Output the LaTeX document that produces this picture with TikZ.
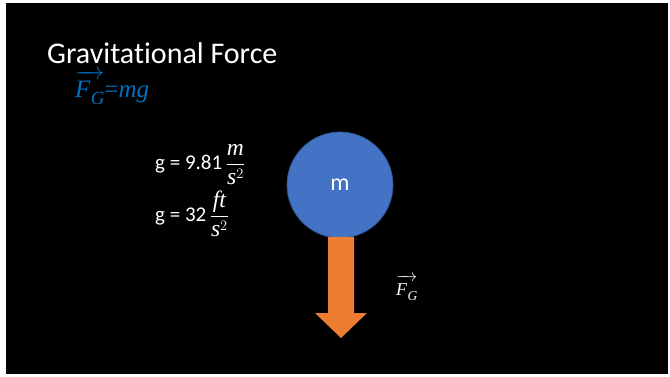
\documentclass[tikz,border=0pt]{standalone}
\usepackage{fontspec}
\setmainfont{Carlito}[Ligatures=NoCommon]
\newfontfamily\mserif{Liberation Serif}
\usepackage{amsmath}
\definecolor{massblue}{HTML}{4472C4}
\definecolor{massedge}{HTML}{2F528F}
\definecolor{forceorange}{HTML}{ED7D31}
\definecolor{eqblue}{HTML}{0070C0}
\newcommand{\mi}[1]{\text{\mserif\itshape #1}}
\newcommand{\mfr}[1]{\text{\mserif\itshape\fontsize{1.12em}{1.2em}\selectfont #1}}
\newcommand{\vecFG}{\overrightarrow{\text{\rule{0pt}{0.74em}\mserif\itshape F\kern0.5pt\raisebox{-0.28em}{\scalebox{0.75}{G}}}}}
\begin{document}
\begin{tikzpicture}[x=1pt,y=-1pt,
  txt/.style={text=white,inner sep=0pt,anchor=base west},
  lbl/.style={text=white,inner sep=0pt,anchor=base west}]
\useasboundingbox (0,0) rectangle (670,377);
\fill[white] (0,0) rectangle (670,377);
\fill[black] (6,3) rectangle (668,374);
\node[txt,font=\fontsize{30}{34}\selectfont] (title) at (47,64) {Gravitational Force};
\node[txt,text=eqblue,font=\fontsize{25}{28}\selectfont] (eq) at (75,98) {$\vecFG\text{\mserif =}\mi{mg}$};
\node[txt,font=\fontsize{21}{24}\selectfont] (g1) at (155,170) {g = 9.81\,$\dfrac{\mfr{m}}{\mfr{s}^{2}}$};
\node[txt,font=\fontsize{21}{24}\selectfont] (g2) at (155,222) {g = 32\,$\dfrac{\mfr{ft}}{\mfr{s}^{2}}$};
\node[circle,fill=massblue,draw=massedge,line width=0.8pt,minimum size=106pt,inner sep=0pt,
  text=white,font=\fontsize{24}{26}\selectfont] (mass) at (340,185) {m};
\fill[forceorange] (328,237) -- (354,237) -- (354,313) -- (367,313) -- (341,338) -- (315,313) -- (328,313) -- cycle;
\node[lbl,font=\fontsize{18}{22}\selectfont] (fg) at (396,295) {$\vecFG$};
\end{tikzpicture}
\end{document}
